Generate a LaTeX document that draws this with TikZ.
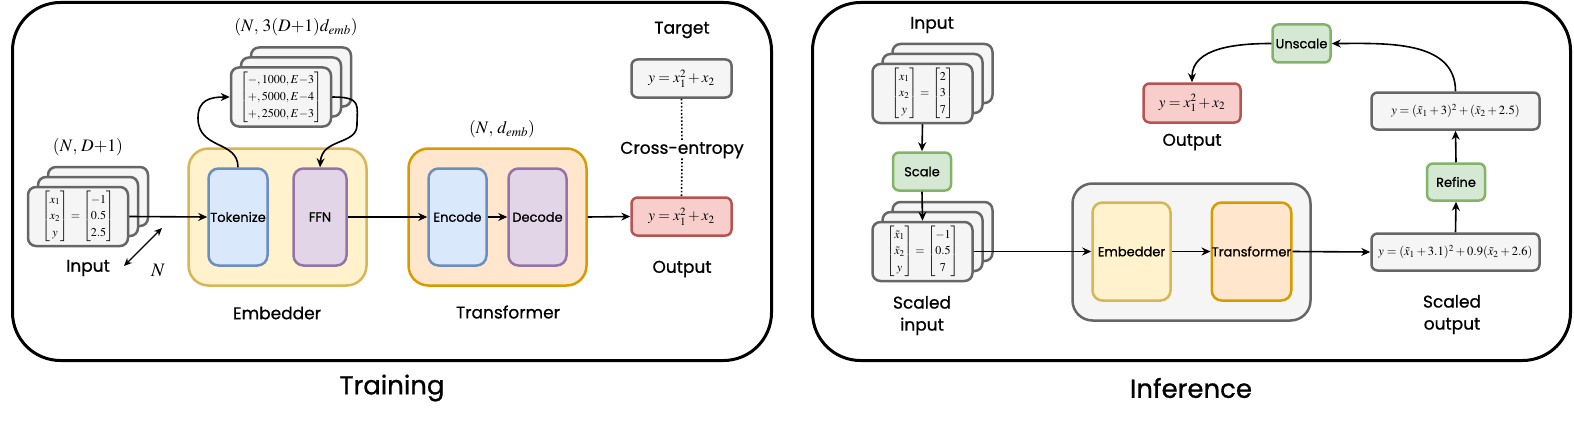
\documentclass[tikz,border=0pt]{standalone}
\usepackage{amsmath}
\usepackage{mathptmx}
\usepackage[no-math]{fontspec}
\setmainfont{Poppins}[FakeBold=0.8]
\usetikzlibrary{arrows.meta}
\definecolor{cgf}{HTML}{F5F5F5}\definecolor{cgs}{HTML}{666666}
\definecolor{cyf}{HTML}{FFF2CC}\definecolor{cys}{HTML}{D6B656}
\definecolor{cbf}{HTML}{DAE8FC}\definecolor{cbs}{HTML}{6C8EBF}
\definecolor{cpf}{HTML}{E1D5E7}\definecolor{cps}{HTML}{9673A6}
\definecolor{cof}{HTML}{FFE6CC}\definecolor{cos}{HTML}{D79B00}
\definecolor{crf}{HTML}{F8CECC}\definecolor{crs}{HTML}{B85450}
\definecolor{cef}{HTML}{D5E8D4}\definecolor{ces}{HTML}{82B366}
\tikzset{
  panel/.style={draw=black, line width=3pt, rounded corners=48pt, inner sep=0pt},
  box/.style={line width=2.5pt, inner sep=0pt, align=center, font=\fontsize{13}{15}\selectfont},
  stk/.style={box, draw=cgs, fill=cgf, rounded corners=8pt, minimum width=100pt, minimum height=59pt, font=\fontsize{12}{14}\selectfont\renewcommand{\arraystretch}{1.2}},
  gbx/.style={box, draw=cgs, fill=cgf, rounded corners=6pt},
  grp/.style={box, rounded corners=20pt},
  inner/.style={box, rounded corners=10pt},
  ybx/.style={draw=cys, fill=cyf},
  bbx/.style={draw=cbs, fill=cbf},
  pbx/.style={draw=cps, fill=cpf},
  obx/.style={draw=cos, fill=cof},
  rbx/.style={box, draw=crs, fill=crf, rounded corners=6pt},
  ebx/.style={box, draw=ces, fill=cef, rounded corners=6pt},
  eqf/.style={font=\fontsize{15}{17}\selectfont},
  lbl/.style={inner sep=0pt, align=center, font=\fontsize{17}{22}\selectfont},
  mlbl/.style={inner sep=0pt, font=\fontsize{17.5}{20}\selectfont},
  ttl/.style={inner sep=0pt, font=\fontsize{26}{30}\selectfont},
  arr/.style={-{Stealth[length=9pt,width=8pt]}, line width=1.6pt},
  dots/.style={line width=1.6pt, dotted},
}
\begin{document}
\begin{tikzpicture}[x=1pt,y=-1pt]
\useasboundingbox (0,0) rectangle (1574,428);
% panels
\node[panel, minimum width=759pt, minimum height=358pt] (trainP) at (392,181.5) {};
\node[panel, minimum width=758pt, minimum height=358pt] (infP) at (1191.5,181.5) {};
\node[ttl] (trainT) at (392,388) {Training};
\node[ttl] (infT) at (1191,388) {Inference};

% ---------- Training ----------
\node[stk] (inB2) at (98,196.5) {};
\node[stk] (inB1) at (88,206.5) {};
\node[stk] (inF) at (78,216.5) {$\begin{bmatrix}x_1\\x_2\\y\end{bmatrix}=\begin{bmatrix}-1\\0.5\\2.5\end{bmatrix}$};
\node[mlbl] (inDim) at (88,147) {$(N,\,D{+}1)$};
\node[lbl] (inL) at (88,268) {Input};
\coordinate (nA) at (124,266);
\coordinate (nB) at (162,228);
\draw[{Stealth[length=8pt,width=7pt]}-{Stealth[length=8pt,width=7pt]}, line width=1.4pt] (nA) -- (nB);
\node[inner sep=0pt, font=\fontsize{19}{21}\selectfont] (nL) at (158,270) {$N$};

\node[grp, ybx, minimum width=178pt, minimum height=137pt] (emb) at (277.5,217) {};
\node[inner, bbx, minimum width=59pt, minimum height=97pt] (tok) at (238,217) {Tokenize};
\node[inner, pbx, minimum width=53pt, minimum height=97pt] (ffn) at (320,217) {FFN};
\node[lbl] (embL) at (277,313) {Embedder};

\node[stk] (tkB2) at (301,77) {};
\node[stk] (tkB1) at (291,87) {};
\node[stk] (tkF) at (281,97) {$\begin{bmatrix}-,1000,E{-}3\\+,5000,E{-}4\\+,2500,E{-}3\end{bmatrix}$};
\node[mlbl] (tkDim) at (296,27) {$(N,\,3(D{+}1)d_{emb})$};

\node[grp, obx, minimum width=178pt, minimum height=137pt] (trf) at (497.5,217) {};
\node[inner, bbx, minimum width=58pt, minimum height=97pt] (enc) at (457.5,217) {Encode};
\node[inner, pbx, minimum width=58pt, minimum height=97pt] (dec) at (537.5,217) {Decode};
\node[mlbl] (trDim) at (502,129) {$(N,\,d_{emb})$};
\node[lbl] (trfL) at (508,312) {Transformer};

\node[rbx, eqf, minimum width=100pt, minimum height=38pt] (out) at (681.5,216.5) {$y=x_1^2+x_2$};
\node[gbx, eqf, minimum width=100pt, minimum height=38pt] (tgt) at (681.5,78.5) {$y=x_1^2+x_2$};
\node[lbl] (tgtL) at (682,30) {Target};
\node[lbl] (ceL) at (682,150) {Cross-entropy};
\node[lbl] (outL) at (682,269) {Output};

\draw[arr] (inF.east) -- (tok.west);
\draw[arr] (tok.north) .. controls (238,140) and (198,150) .. (198,118) .. controls (198,100) and (210,97) .. (tkF.west);
\draw[arr] (tkF.east) .. controls (362,97) and (357,105) .. (357,125) .. controls (357,145) and (322,138) .. (ffn.north);
\draw[arr] (ffn.east) -- (enc.west);
\draw[arr] (enc.east) -- (dec.west);
\draw[arr] (trf.east) -- (out.west);
\draw[dots] (tgt.south) -- (ceL.north);
\draw[dots] (ceL.south) -- (out.north);

% ---------- Inference ----------
\node[lbl] (iinL) at (932,25) {Input};
\node[stk] (iiB2) at (942.5,73.5) {};
\node[stk] (iiB1) at (932.5,83.5) {};
\node[stk] (iiF) at (922.5,93.5) {$\begin{bmatrix}x_1\\x_2\\y\end{bmatrix}=\begin{bmatrix}2\\3\\7\end{bmatrix}$};
\node[ebx, minimum width=58pt, minimum height=38pt] (scale) at (922,171.5) {Scale};
\node[stk] (siB2) at (942.5,231.5) {};
\node[stk] (siB1) at (932.5,241.5) {};
\node[stk] (siF) at (922.5,251.5) {$\begin{bmatrix}\tilde x_1\\\tilde x_2\\y\end{bmatrix}=\begin{bmatrix}-1\\0.5\\7\end{bmatrix}$};
\node[lbl] (siL) at (922,315.5) {Scaled\\input};

\node[grp, draw=cgs, fill=cgf, minimum width=238pt, minimum height=137pt] (gbox) at (1191.5,252) {};
\node[inner, ybx, minimum width=78pt, minimum height=98pt] (iemb) at (1131.5,251.5) {Embedder};
\node[inner, obx, minimum width=78pt, minimum height=98pt] (itrf) at (1251.5,251.5) {Transformer};

\node[gbx, minimum width=168pt, minimum height=37pt, font=\fontsize{12.5}{14}\selectfont] (sout) at (1455.5,252) {$y=(\tilde x_1+3.1)^2+0.9(\tilde x_2+2.6)$};
\node[lbl] (soL) at (1452,314.5) {Scaled\\output};
\node[ebx, minimum width=58pt, minimum height=37pt] (refine) at (1456,182) {Refine};
\node[gbx, minimum width=168pt, minimum height=37pt, font=\fontsize{12.5}{14}\selectfont] (uout) at (1455.5,111) {$y=(\tilde x_1+3)^2+(\tilde x_2+2.5)$};
\node[ebx, minimum width=58pt, minimum height=38pt] (unscale) at (1301.5,43.5) {Unscale};
\node[rbx, eqf, minimum width=97pt, minimum height=39pt] (iout) at (1192,103) {$y=x_1^2+x_2$};
\node[lbl] (ioL) at (1192,142) {Output};

\draw[arr] (iiF.south) -- (scale.north);
\draw[arr] (scale.south) -- (siF.north);
\draw[arr] (siF.east) -- (iemb.west);
\draw[arr] (iemb.east) -- (itrf.west);
\draw[arr] (itrf.east) -- (sout.west);
\draw[arr] (sout.north) -- (refine.south);
\draw[arr] (refine.north) -- (uout.south);
\draw[arr] (uout.north) to[out=90,in=0] (unscale.east);
\draw[arr] (unscale.west) to[out=180,in=90] (iout.north);
\end{tikzpicture}
\end{document}
